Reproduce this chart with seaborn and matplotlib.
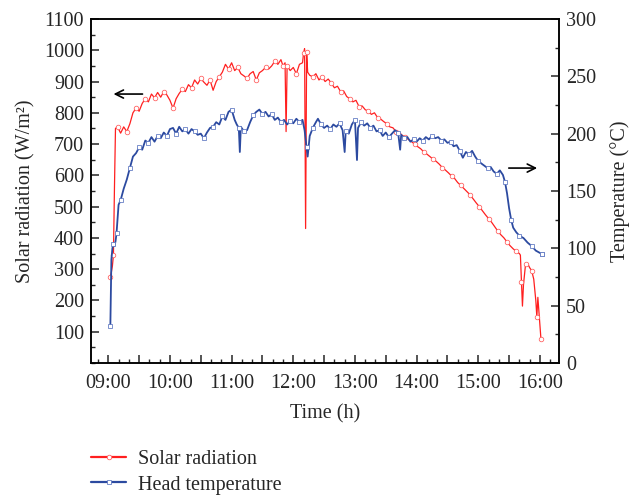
import pandas as pd
import seaborn as sns
import matplotlib
matplotlib.use("Agg")
import matplotlib.pyplot as plt
from matplotlib.ticker import MultipleLocator, FuncFormatter

# Solar radiation (W/m2)
solar_time = [
    "09:02", "09:03", "09:04", "09:05", "09:06", "09:07", "09:09", "09:12", "09:15", "09:18",
    "09:21", "09:24", "09:27", "09:30", "09:33", "09:36", "09:39", "09:42", "09:45", "09:48",
    "09:51", "09:54", "09:57", "10:00", "10:03", "10:06", "10:09", "10:12", "10:15", "10:18",
    "10:21", "10:24", "10:27", "10:30", "10:33", "10:36", "10:39", "10:42", "10:45", "10:48",
    "10:51", "10:54", "10:57", "11:00", "11:03", "11:06", "11:09", "11:12", "11:15", "11:18",
    "11:21", "11:24", "11:27", "11:30", "11:33", "11:36", "11:39", "11:42", "11:45", "11:48",
    "11:50", "11:52", "11:53", "11:54", "11:57", "12:00", "12:03", "12:06", "12:09", "12:10",
    "12:11", "12:12", "12:13", "12:14", "12:16", "12:19", "12:22", "12:25", "12:28", "12:31",
    "12:34", "12:37", "12:40", "12:43", "12:46", "12:49", "12:52", "12:55", "12:58", "13:01",
    "13:04", "13:07", "13:10", "13:13", "13:16", "13:19", "13:22", "13:25", "13:28", "13:31",
    "13:34", "13:37", "13:40", "13:43", "13:46", "13:49", "13:52", "13:55", "13:58", "14:01",
    "14:04", "14:07", "14:10", "14:13", "14:16", "14:19", "14:22", "14:25", "14:28", "14:31",
    "14:34", "14:37", "14:40", "14:43", "14:46", "14:49", "14:52", "14:55", "14:58", "15:01",
    "15:04", "15:07", "15:10", "15:13", "15:16", "15:19", "15:22", "15:25", "15:28", "15:31",
    "15:34", "15:37", "15:40", "15:41", "15:42", "15:43", "15:44", "15:46", "15:48", "15:50",
    "15:52", "15:54", "15:56", "15:57", "15:58", "16:01",
]
solar_value = [
    275, 290, 310, 345, 560, 750, 755, 735, 755, 740,
    765, 800, 815, 805, 830, 845, 835, 860, 848, 865,
    850, 868, 857, 840, 815, 845, 862, 875, 868, 890,
    880, 905, 892, 910, 898, 888, 905, 872, 900, 915,
    930, 955, 940, 960, 935, 945, 925, 918, 910, 925,
    932, 905, 928, 935, 945, 940, 950, 965, 955, 970,
    950, 960, 740, 950, 935, 945, 925, 955, 960, 990,
    1005, 430, 995, 930, 920, 915, 925, 905, 915, 900,
    908, 895, 880, 885, 868, 870, 852, 845, 835, 840,
    820, 822, 810, 805, 795, 800, 785, 780, 772, 765,
    755, 752, 740, 738, 728, 722, 715, 708, 700, 692,
    685, 675, 668, 660, 652, 645, 636, 625, 617, 608,
    598, 590, 577, 568, 558, 548, 538, 525, 512, 500,
    487, 474, 462, 450, 436, 422, 410, 400, 387, 375,
    365, 357, 350, 345, 260, 182, 250, 315, 318, 305,
    295, 268, 200, 148, 210, 77,
]

# Head temperature (deg C)
temp_time = [
    "09:02", "09:03", "09:04", "09:05", "09:06", "09:07", "09:08", "09:09", "09:10", "09:12",
    "09:15", "09:18", "09:21", "09:24", "09:27", "09:30", "09:33", "09:36", "09:39", "09:42",
    "09:45", "09:48", "09:51", "09:54", "09:57", "10:00", "10:03", "10:06", "10:09", "10:12",
    "10:15", "10:18", "10:21", "10:24", "10:27", "10:30", "10:33", "10:36", "10:39", "10:42",
    "10:45", "10:48", "10:51", "10:54", "10:57", "11:00", "11:03", "11:05", "11:07", "11:08",
    "11:09", "11:12", "11:15", "11:18", "11:21", "11:24", "11:27", "11:30", "11:33", "11:36",
    "11:39", "11:42", "11:45", "11:48", "11:51", "11:54", "11:57", "12:00", "12:03", "12:06",
    "12:09", "12:11", "12:13", "12:14", "12:16", "12:19", "12:22", "12:24", "12:27", "12:30",
    "12:33", "12:36", "12:39", "12:42", "12:45", "12:48", "12:50", "12:51", "12:54", "12:57",
    "13:00", "13:02", "13:03", "13:06", "13:09", "13:12", "13:15", "13:18", "13:21", "13:24",
    "13:27", "13:30", "13:33", "13:36", "13:39", "13:42", "13:44", "13:45", "13:48", "13:51",
    "13:54", "13:57", "14:00", "14:03", "14:06", "14:09", "14:12", "14:15", "14:18", "14:21",
    "14:24", "14:27", "14:30", "14:33", "14:36", "14:39", "14:42", "14:45", "14:48", "14:51",
    "14:54", "14:57", "15:00", "15:03", "15:06", "15:09", "15:12", "15:15", "15:18", "15:21",
    "15:24", "15:26", "15:28", "15:30", "15:32", "15:34", "15:37", "15:40", "15:44", "15:48",
    "15:52", "15:56", "16:00", "16:02",
]
temp_value = [
    32, 90, 100, 104, 102, 106, 113, 125, 138, 142,
    152, 160, 170, 180, 183, 188, 186, 194, 192, 197,
    193, 198, 196, 201, 198, 204, 205, 200, 206, 202,
    204, 200, 204, 202, 199, 200, 196, 201, 205, 206,
    210, 208, 215, 212, 219, 221, 212, 208, 205, 184,
    206, 202, 203, 210, 216, 219, 221, 217, 219, 215,
    217, 212, 214, 210, 212, 208, 211, 209, 213, 210,
    212, 203, 188, 180, 198, 205, 210, 213, 208, 205,
    207, 204, 208, 206, 209, 203, 184, 202, 200, 208,
    212, 177, 205, 210, 207, 209, 205, 207, 202, 203,
    198, 201, 197, 200, 203, 201, 186, 199, 196, 197,
    193, 195, 193, 196, 194, 197, 195, 198, 196, 197,
    194, 195, 192, 193, 189, 190, 185, 179, 184, 182,
    185, 180, 176, 174, 172, 170, 171, 167, 165, 168,
    164, 158, 148, 135, 125, 118, 114, 111, 109, 105,
    102, 98, 96, 95,
]


def to_hours(t):
    h, m = t.split(":")
    return int(h) + int(m) / 60


df_solar = pd.DataFrame({"t": [to_hours(t) for t in solar_time], "v": solar_value})
df_temp = pd.DataFrame({"t": [to_hours(t) for t in temp_time], "v": temp_value})

sns.set_style("ticks")
plt.rcParams["font.family"] = ["Liberation Serif", "DejaVu Serif"]
fs = 14.5
plt.rcParams["font.size"] = fs

red = "#ff1f1f"
blue = "#2c4aa0"

fig = plt.figure(figsize=(6.37, 4.97), dpi=100)
ax = fig.add_axes([0.1429, 0.2696, 0.7347, 0.6922])
ax2 = ax.twinx()

mark_solar = list(range(0, len(solar_value), 3)) + [len(solar_value) - 1]
mark_temp = list(range(0, len(temp_value), 3)) + [len(temp_value) - 1]

sns.lineplot(data=df_solar, x="t", y="v", ax=ax, color=red, lw=0.9,
             marker="o", markersize=3.3, markerfacecolor="white",
             markeredgecolor="#ff5a5a", markeredgewidth=0.55, markevery=mark_solar,
             estimator=None, sort=False, label="Solar radiation")
sns.lineplot(data=df_temp, x="t", y="v", ax=ax2, color=blue, lw=1.3,
             marker="s", markersize=3.0, markerfacecolor="white",
             markeredgecolor="#5a74c0", markeredgewidth=0.55, markevery=mark_temp,
             estimator=None, sort=False, label="Head temperature")

ax.set_xlim(8.72, 16.31)
ax.set_ylim(0, 1100)
ax2.set_ylim(0, 300)

ax.set_yticks(range(100, 1101, 100))
ax.yaxis.set_minor_locator(MultipleLocator(50))
ax2.set_yticks(range(0, 301, 50))
ax2.yaxis.set_minor_locator(MultipleLocator(25))
ax.xaxis.set_major_locator(MultipleLocator(0.5))
ax.xaxis.set_minor_locator(MultipleLocator(1 / 6))
ax.xaxis.set_major_formatter(FuncFormatter(
    lambda v, p: f"{int(round(v)):02d}:00" if abs(v - round(v)) < 1e-6 else ""))

for a in (ax, ax2):
    a.tick_params(which="major", direction="in", length=6, width=1.1, labelsize=fs)
    a.tick_params(which="minor", direction="in", length=3, width=1.0)
    for s in a.spines.values():
        s.set_linewidth(1.1)
        s.set_color("black")
ax.tick_params(axis="x", pad=8)
ax.tick_params(axis="y", pad=5)
ax2.tick_params(axis="y", pad=5)

ax.set_xlabel("Time (h)", fontsize=fs, labelpad=8)
ax.set_ylabel("Solar radiation (W/m²)", fontsize=fs, labelpad=6)
ax2.set_ylabel("Temperature (°C)", fontsize=fs, labelpad=10)

# arrows pointing at the respective axes
ax.annotate("", xy=(9.04, 860), xytext=(9.6, 860),
            arrowprops=dict(arrowstyle="->", color="black", lw=1.2))
ax2.annotate("", xy=(16.0, 170), xytext=(15.45, 170),
             arrowprops=dict(arrowstyle="->", color="black", lw=1.2))

h1, l1 = ax.get_legend_handles_labels()
h2, l2 = ax2.get_legend_handles_labels()
ax.get_legend().remove()
ax2.get_legend().remove()
leg = fig.legend(h1 + h2, l1 + l2, loc="upper left", bbox_to_anchor=(0.143, 0.094),
                 frameon=False, borderpad=0, borderaxespad=0, handlelength=1.75,
                 handletextpad=0.6, labelspacing=0.3, fontsize=fs, numpoints=1)
for ln in leg.get_lines():
    ln.set_linewidth(1.6)

fig.savefig("out.png", dpi=100)
